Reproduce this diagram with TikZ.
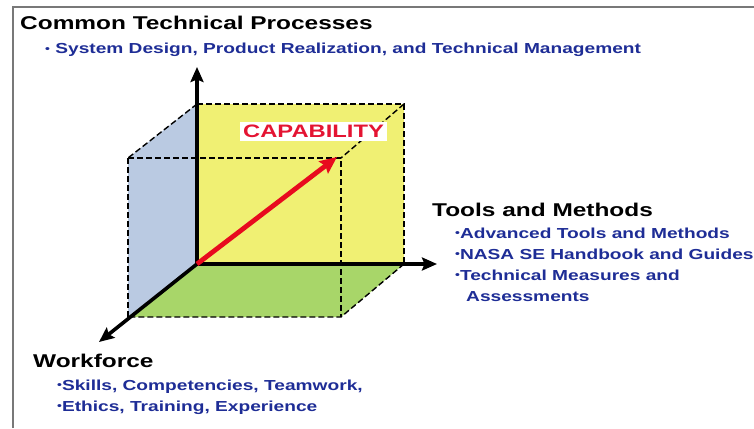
\documentclass[tikz,border=0pt]{standalone}
\usepackage{fontspec}
\setmainfont{Liberation Sans}
\usepackage{graphicx}
\usetikzlibrary{arrows.meta}
\definecolor{txtblue}{RGB}{30,45,150}
\definecolor{capred}{RGB}{228,20,50}
\definecolor{arrred}{RGB}{232,10,30}
\definecolor{yelface}{RGB}{240,240,115}
\definecolor{bluface}{RGB}{186,202,226}
\definecolor{grnface}{RGB}{168,214,105}
\definecolor{framegray}{RGB}{120,120,120}
\newcommand{\hs}[1]{\scalebox{1.32}[1]{#1}}
\newcommand{\bul}{\raisebox{1.6pt}{\scalebox{0.72}{•}}}
\tikzset{
  headtxt/.style={font=\bfseries\fontsize{18.5}{20}\selectfont, anchor=base west, inner sep=0pt},
  itemtxt/.style={font=\bfseries\fontsize{14.5}{16}\selectfont, text=txtblue, anchor=base west, inner sep=0pt},
  dsh/.style={draw=black, line width=1.4pt, dash pattern=on 6pt off 3pt},
  axisline/.style={draw=black, line width=3.6pt, -{Stealth[length=15pt,width=13pt,inset=2.5pt]}},
  caparrow/.style={draw=arrred, line width=4.8pt, -{Stealth[length=17pt,width=15pt,inset=2.5pt]}}
}
\begin{document}
\begin{tikzpicture}[x=1pt,y=-1pt]
\useasboundingbox (0,0) rectangle (754,428);
\fill[white] (0,0) rectangle (754,428);
% frame
\draw[framegray, line width=1.8pt] (13,428) -- (13,7) -- (754,7);
% cube corners
\coordinate (O) at (197,264);
\coordinate (BTL) at (197,104);
\coordinate (BTR) at (404,104);
\coordinate (BBR) at (404,264);
\coordinate (FTL) at (128,158);
\coordinate (FTR) at (341,158);
\coordinate (FBR) at (341,317);
\coordinate (FBL) at (128,317);
\coordinate (Ztip) at (197,67);
\coordinate (Xtip) at (437,264);
\coordinate (Ytip) at (99,342);
\coordinate (Ctip) at (337,157);
% faces
\fill[yelface] (BTL) rectangle (BBR);
\fill[bluface] (BTL) -- (FTL) -- (FBL) -- (O) -- cycle;
\fill[grnface] (O) -- (BBR) -- (FBR) -- (FBL) -- cycle;
% dashed edges
\draw[dsh] (BTL) -- (BTR) -- (BBR);
\draw[dsh] (BBR) -- (FBR) -- (FBL);
\draw[dsh] (FTL) -- (FTR) -- (FBR);
\draw[dsh] (FTL) -- (FBL);
\draw[dsh] (BTL) -- (FTL);
\draw[dsh] (BTR) -- (FTR);
% axes
\draw[axisline] (O) -- (Ztip);
\draw[axisline] (O) -- (Xtip);
\draw[axisline] (O) -- (Ytip);
% capability
\draw[caparrow] (O) -- (Ctip);
\node[fill=white, inner xsep=3pt, inner ysep=0pt, minimum height=19pt, text=capred,
      font=\bfseries\fontsize{18}{18}\selectfont] (cap) at (313.5,131.5) {\hs{CAPABILITY}};
% texts
\node[headtxt] (ctp) at (20,30) {\hs{Common Technical Processes}};
\node[itemtxt] (ctp1) at (45,54) {\hs{\bul\ System Design, Product Realization, and Technical Management}};
\node[headtxt] (tm) at (432,216) {\hs{Tools and Methods}};
\node[itemtxt] (tm1) at (455,238) {\hs{\bul Advanced Tools and Methods}};
\node[itemtxt] (tm2) at (455,259) {\hs{\bul NASA SE Handbook and Guides}};
\node[itemtxt] (tm3) at (455,280) {\hs{\bul Technical Measures and}};
\node[itemtxt] (tm4) at (466,301) {\hs{Assessments}};
\node[headtxt] (wf) at (33,367) {\hs{Workforce}};
\node[itemtxt] (wf1) at (57,390) {\hs{\bul Skills, Competencies, Teamwork,}};
\node[itemtxt] (wf2) at (57,411) {\hs{\bul Ethics, Training, Experience}};
\end{tikzpicture}
\end{document}
